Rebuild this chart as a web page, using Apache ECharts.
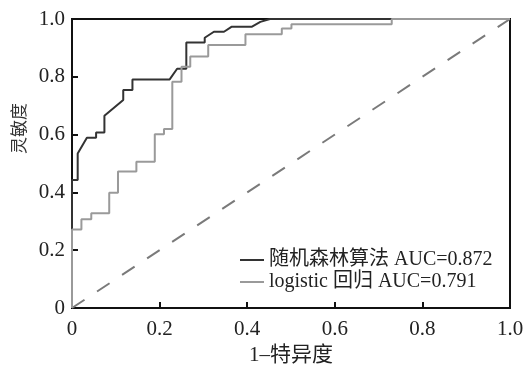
<!DOCTYPE html>
<html>
<head>
<meta charset="utf-8">
<script src="https://cdn.jsdelivr.net/npm/echarts@6/dist/echarts.min.js"></script>
<style>html,body{margin:0;padding:0;background:#fff;}#c{width:523px;height:365px;}</style>
</head>
<body>
<div id="c"></div>
<script>
// ---- data ----
var seriesNames = ['随机森林算法 AUC=0.872', 'logistic 回归 AUC=0.791'];
var tickValues = [0, 0.2, 0.4, 0.6, 0.8, 1.0];
var tickLabels = ['0', '0.2', '0.4', '0.6', '0.8', '1.0'];
var xAxisTitle = '1–特异度';
var yAxisTitle = '灵敏度';
var rfFpr = [0, 0, 0.013, 0.013, 0.034, 0.055, 0.055, 0.074, 0.074, 0.117, 0.117, 0.138, 0.138, 0.223, 0.240, 0.261, 0.261, 0.303, 0.303, 0.324, 0.347, 0.364, 0.410, 0.430, 0.452, 1];
var rfTpr = [0, 0.443, 0.443, 0.535, 0.589, 0.589, 0.607, 0.607, 0.665, 0.720, 0.754, 0.754, 0.791, 0.791, 0.828, 0.828, 0.919, 0.919, 0.935, 0.956, 0.956, 0.973, 0.973, 0.990, 1.0, 1.0];
var lrFpr = [0, 0, 0.0215, 0.0215, 0.044, 0.044, 0.085, 0.085, 0.105, 0.105, 0.147, 0.147, 0.189, 0.189, 0.210, 0.210, 0.229, 0.229, 0.250, 0.250, 0.270, 0.270, 0.311, 0.311, 0.396, 0.396, 0.479, 0.479, 0.501, 0.501, 0.730, 0.730, 1];
var lrTpr = [0, 0.272, 0.272, 0.307, 0.307, 0.328, 0.328, 0.399, 0.399, 0.472, 0.472, 0.506, 0.506, 0.601, 0.601, 0.619, 0.619, 0.783, 0.783, 0.835, 0.835, 0.870, 0.870, 0.910, 0.910, 0.947, 0.947, 0.967, 0.967, 0.982, 0.982, 1.0, 1.0];
var refX = [0, 1];
var refY = [0, 1];

function zip(a, b) { return a.map(function (v, i) { return [v, b[i]]; }); }
function fmt(v) {
  for (var i = 0; i < tickValues.length; i++) {
    if (Math.abs(v - tickValues[i]) < 1e-9) return tickLabels[i];
  }
  return '';
}
var FONT = "'Liberation Serif', 'Noto Sans CJK SC', serif";

var chart = echarts.init(document.getElementById('c'), null, { renderer: 'canvas' });
var axisCommon = {
  type: 'value', min: 0, max: 1, interval: 0.2,
  axisLine: { show: true, lineStyle: { color: '#111', width: 2 } },
  axisTick: { show: true, inside: true, length: 6, lineStyle: { color: '#111', width: 2 } },
  splitLine: { show: false },
  axisLabel: { fontFamily: FONT, fontSize: 21, color: '#222', formatter: fmt }
};
chart.setOption({
  animation: false,
  backgroundColor: '#fff',
  grid: { left: 72, right: 13, top: 19, bottom: 57, show: true, borderColor: '#111', borderWidth: 2,
    backgroundColor: 'transparent', containLabel: false, outerBoundsMode: 'none' },
  xAxis: Object.assign({}, axisCommon, {
    axisLabel: Object.assign({}, axisCommon.axisLabel, { margin: 11 }),
    name: xAxisTitle, nameLocation: 'middle', nameGap: 35,
    nameTextStyle: { fontFamily: FONT, fontSize: 21, color: '#222' }
  }),
  yAxis: Object.assign({}, axisCommon, {
    axisLabel: Object.assign({}, axisCommon.axisLabel, { margin: 7 })
  }),
  graphic: [{
    type: 'text', left: 12, top: 103, rotation: Math.PI / 2,
    style: { text: yAxisTitle, fontFamily: FONT, fontSize: 17, fill: '#333' }
  }],
  legend: {
    orient: 'vertical', left: 235, top: 245, itemGap: 2, itemWidth: 24, itemHeight: 2, icon: 'rect',
    data: seriesNames,
    textStyle: { fontFamily: FONT, fontSize: 20, color: '#222' }
  },
  series: [
    { type: 'line', name: 'ref', data: zip(refX, refY), symbol: 'none', clip: false, z: 1,
      lineStyle: { color: '#7a7a7a', width: 2, type: [15, 15] } },
    { type: 'line', name: seriesNames[0], data: zip(rfFpr, rfTpr), symbol: 'none', clip: false, z: 2,
      itemStyle: { color: '#333' }, lineStyle: { color: '#333', width: 2 } },
    { type: 'line', name: seriesNames[1], data: zip(lrFpr, lrTpr), symbol: 'none', clip: false, z: 3,
      itemStyle: { color: '#9a9a9a' }, lineStyle: { color: '#9a9a9a', width: 2 } }
  ]
});
</script>
</body>
</html>
